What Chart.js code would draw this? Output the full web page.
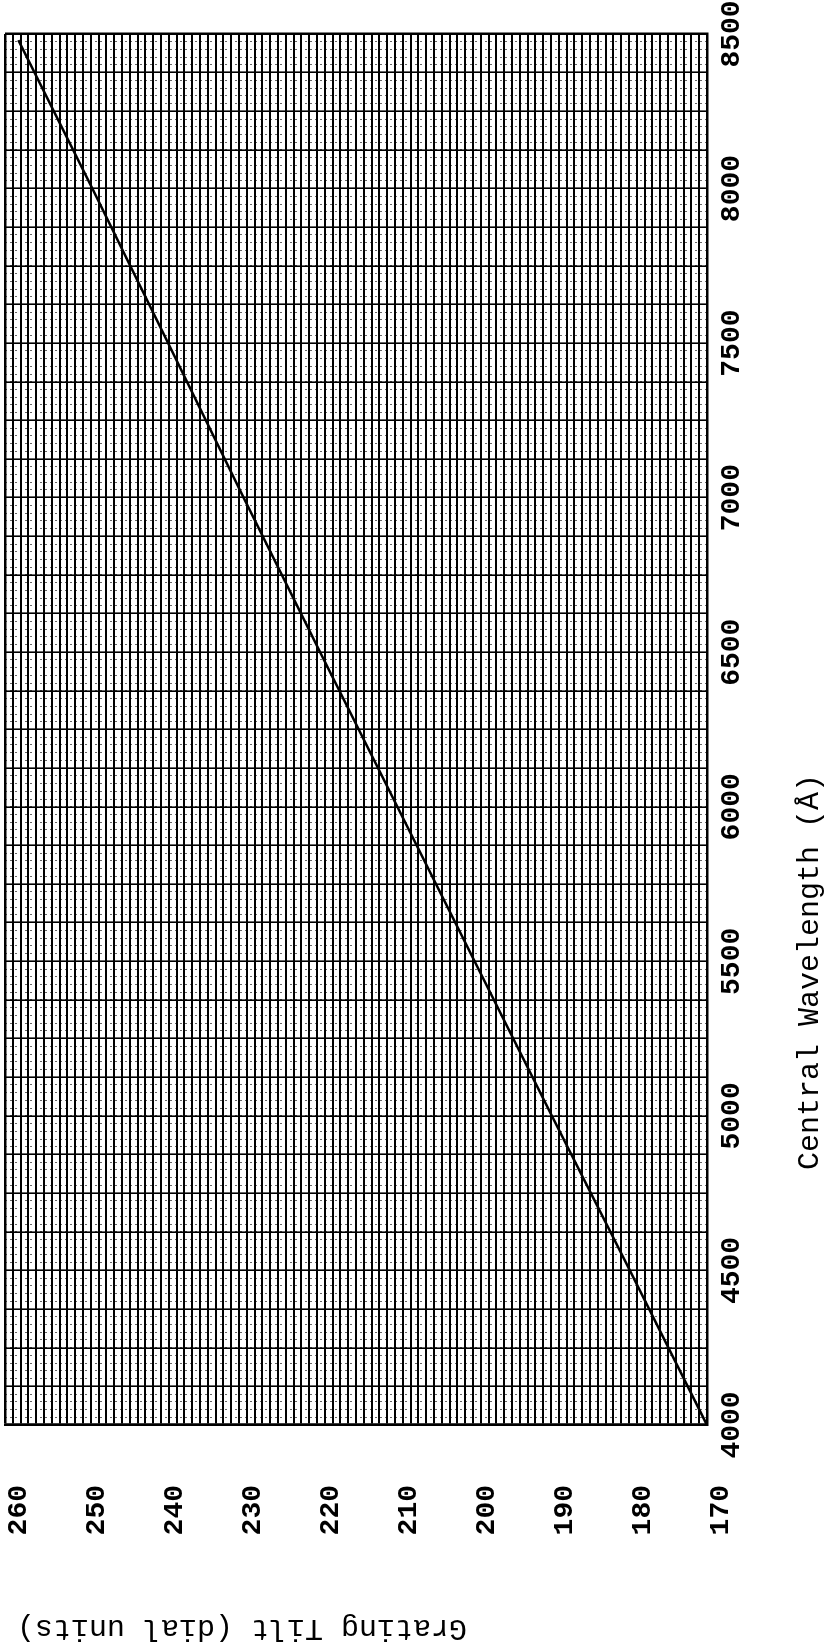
<!DOCTYPE html>
<html lang="en">
<head>
    <meta charset="UTF-8">
    <title>Grating Tilt vs Central Wavelength</title>
    <script src="https://cdn.jsdelivr.net/npm/chart.js"></script>
    <style>
        html, body {
            margin: 0;
            padding: 0;
            background: #ffffff;
            overflow: hidden;
        }
        /* the chart is drawn landscape and turned a quarter turn to the left */
        #sheet {
            position: absolute;
            left: 0;
            top: 0;
            width: 1652px;
            height: 825px;
            transform-origin: 0 0;
            transform: translateY(1652px) rotate(-90deg);
            font-family: "Liberation Mono", "Courier New", monospace;
            color: #000;
        }
        #chart {
            position: absolute;
            left: 0;
            top: 0;
        }
        .axis-title {
            position: absolute;
            font-size: 30px;
            line-height: 30px;
            white-space: nowrap;
        }
        #xTitle {
            left: 680px;
            top: 810px;
            transform: translate(-50%, -50%);
        }
        #yTitle {
            left: 24px;
            top: 242px;
            transform: translate(-50%, -50%) rotate(-90deg);
        }
    </style>
</head>
<body>
    <div id="sheet">
        <canvas id="chart" width="1652" height="825"></canvas>
        <div class="axis-title" id="xTitle">Central Wavelength (Å)</div>
        <div class="axis-title" id="yTitle">Grating Tilt (dial units)</div>
    </div>

    <script>
        // curve
        const wavelength = [4000, 4500, 5000, 5500, 6000, 6500, 7000, 7500, 8000, 8480];
        const tilt = [170, 179.9, 189.9, 199.8, 209.7, 219.6, 229.4, 239.1, 248.8, 258.3];

        // labelled ticks
        const wavelengthLabels = [4000, 4500, 5000, 5500, 6000, 6500, 7000, 7500, 8000, 8500];
        const tiltLabels = [170, 180, 190, 200, 210, 220, 230, 240, 250, 260];

        const tickFont = { family: '"Liberation Mono", "Courier New", monospace', size: 28, weight: 'bold' };

        function noPadding(scale) {
            scale.paddingTop = 0;
            scale.paddingBottom = 0;
            scale.paddingLeft = 0;
            scale.paddingRight = 0;
        }

        const ctx = document.getElementById('chart').getContext('2d');
        new Chart(ctx, {
            type: 'line',
            data: {
                datasets: [{
                    data: wavelength.map((w, i) => ({ x: w, y: tilt[i] })),
                    borderColor: '#000',
                    borderWidth: 2.5,
                    pointRadius: 0,
                    tension: 0,
                    fill: false,
                    xAxisID: 'x',
                    yAxisID: 'y'
                }]
            },
            options: {
                responsive: false,
                animation: false,
                layout: { padding: { top: 5, right: 34, left: 0, bottom: 0 } },
                plugins: {
                    legend: { display: false },
                    tooltip: { enabled: false }
                },
                scales: {
                    x: {
                        type: 'linear',
                        position: 'bottom',
                        min: 4000,
                        max: 8500,
                        ticks: {
                            stepSize: 125,
                            autoSkip: false,
                            maxRotation: 0,
                            minRotation: 0,
                            padding: 8,
                            color: '#000',
                            font: tickFont,
                            callback: v => wavelengthLabels.includes(v) ? String(v) : ''
                        },
                        grid: {
                            drawTicks: false,
                            color: '#000',
                            lineWidth: c => (c.tick && (c.tick.value === 8500 || c.tick.value === 4000)) ? 2.5 : 1.6
                        },
                        border: { display: true, color: '#000', width: 2.5 },
                        afterFit: s => { s.height = 118; noPadding(s); }
                    },
                    xm: {
                        type: 'linear',
                        position: 'bottom',
                        min: 4000,
                        max: 8500,
                        ticks: { display: false, stepSize: 25, autoSkip: false },
                        grid: {
                            drawTicks: false,
                            color: 'rgba(0,0,0,0.6)',
                            lineWidth: 1
                        },
                        border: { display: false, dash: [2, 3] },
                        afterFit: s => { s.height = 0; noPadding(s); }
                    },
                    y: {
                        type: 'linear',
                        position: 'left',
                        min: 170,
                        max: 260,
                        ticks: {
                            stepSize: 1,
                            autoSkip: false,
                            padding: 60,
                            labelOffset: 14,
                            color: '#000',
                            font: tickFont,
                            callback: v => tiltLabels.includes(v) ? String(v) : ''
                        },
                        grid: {
                            drawTicks: false,
                            color: '#000',
                            lineWidth: c => (c.tick && c.tick.value === 260) ? 2.5 : 2
                        },
                        border: { display: true, color: '#000', width: 2.5 },
                        afterFit: s => { s.width = 227; noPadding(s); }
                    }
                }
            }
        });
    </script>
</body>
</html>
